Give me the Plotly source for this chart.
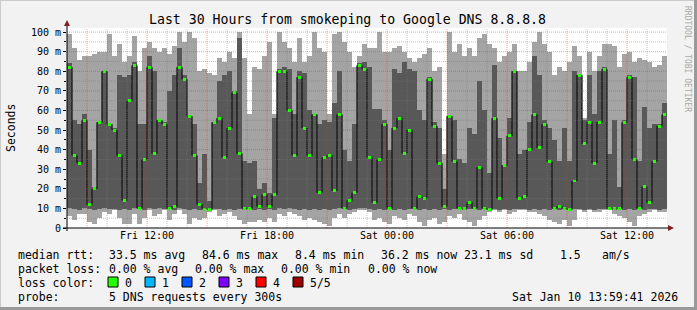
import plotly.graph_objects as go
import pandas as pd

# ---------------- data (ms), one value per 15-minute step, Fri 08:00 -> Sat 14:00 ----------------
START = "2026-01-09 08:00"
STEP_MIN = 15

max_ms = [99, 92, 86, 88, 88, 89, 90, 90, 99, 88, 94, 85, 88, 98, 80, 92, 95, 92, 90, 92, 89, 93, 100, 95, 100, 97, 80, 81, 79, 78,
          87, 85, 90, 87, 100, 87, 58, 82, 81, 88, 95, 58, 100, 95, 92, 85, 97, 85, 88, 100, 92, 90, 58, 99, 100, 95, 90, 82, 88, 94,
          92, 92, 100, 90, 90, 92, 93, 90, 87, 85, 87, 89, 92, 80, 82, 38, 100, 90, 94, 88, 92, 88, 97, 99, 94, 92, 85, 88, 90, 94,
          80, 80, 85, 95, 100, 94, 90, 78, 82, 80, 85, 93, 88, 56, 90, 80, 88, 94, 94, 93, 82, 89, 90, 85, 87, 86, 85, 82, 83, 88]
upper_ms = [84, 55, 53, 58, 40, 21, 54, 80, 53, 51, 78, 77, 78, 85, 53, 53, 88, 80, 55, 54, 70, 78, 92, 78, 57, 53, 23, 38, 14, 54,
            75, 78, 80, 70, 97, 34, 33, 34, 20, 23, 18, 56, 81, 82, 81, 58, 80, 79, 60, 58, 53, 55, 54, 64, 80, 40, 34, 53, 84, 85,
            82, 61, 61, 55, 40, 81, 79, 85, 81, 80, 60, 55, 77, 54, 51, 20, 57, 55, 35, 33, 51, 48, 75, 60, 28, 83, 46, 32, 56, 80,
            38, 40, 54, 88, 78, 55, 51, 45, 34, 51, 34, 80, 78, 55, 78, 58, 80, 82, 38, 55, 21, 55, 78, 77, 34, 62, 51, 53, 53, 64]
median_ms = [82, 37, 33, 55, 12, 20, 54, 80, 53, 50, 37, 14, 65, 83, 10, 35, 82, 38, 55, 53, 10, 11, 82, 76, 57, 37, 12, 9.5, 9.5, 54,
             56, 36, 51, 69, 38, 10, 10, 16, 11, 17, 11, 17, 80, 80, 60, 37, 77, 51, 37, 58, 18, 36, 37, 19, 58, 10, 14, 18, 83, 81,
             36, 13, 35, 53, 10, 51, 56, 38, 50, 10, 16, 15, 76, 52, 33, 11, 57, 34, 10, 10, 13, 10, 31, 10, 9.5, 56, 15, 32, 47, 80,
             15, 16, 40, 58, 41, 53, 34, 10, 11, 10, 9.5, 24, 78, 43, 54, 33, 54, 81, 10, 10, 10, 54, 77, 35, 10, 21, 13, 34, 52, 58]
lower_ms = [10, 9.5, 9, 10, 9.5, 9, 9.5, 10, 9.5, 9.5, 9, 9.5, 9, 10, 9.5, 9, 10, 9.5, 10, 9.5, 9.5, 9, 10, 9.5, 9, 9.5, 9, 9.5, 9, 9.5,
            9.5, 9, 9.5, 9, 9.5, 9, 9.5, 9, 9.5, 9, 9.5, 9, 10, 9.5, 10, 9.5, 9, 9.5, 9, 9.5, 9, 9.5, 9, 9.5, 10, 9.5, 9, 9.5, 10, 10,
            9.5, 9, 9.5, 9, 9.5, 9, 9.5, 9, 9.5, 9.5, 9, 9.5, 9, 9.5, 9, 9.5, 9, 9.5, 9.5, 9, 9.5, 9.5, 9, 9.5, 9, 9.5, 9, 9.5, 9, 9.5,
            9.5, 9.5, 9, 9.5, 9, 9.5, 9, 9.5, 9, 9.5, 9, 9.5, 9.5, 9, 9.5, 9, 9.5, 9.5, 9.5, 9, 9.5, 9, 9.5, 9, 9.5, 9, 9.5, 9.5, 9, 9.5]
min_ms = [6, 4, 7, 7, 3, 2, 5, 8, 7, 9, 5, 2, 2, 7, 2, 5, 9, 6, 7, 9, 4, 7, 9, 7, 2, 5, 4, 5, 8, 9,
          6, 7, 8, 6, 4, 2, 3, 3, 4, 3, 5, 3, 7, 6, 8, 7, 6, 4, 5, 4, 3, 2, 1, 5, 7, 5, 7, 8, 9, 9,
          8, 4, 5, 3, 2, 6, 5, 4, 7, 6, 3, 1, 4, 5, 2, 3, 6, 5, 7, 4, 3, 1, 4, 6, 8, 9, 8, 9, 7, 8,
          9, 9, 8, 8, 7, 6, 4, 3, 2, 4, 1, 4, 9, 8, 9, 8, 8, 9, 9, 7, 6, 5, 3, 1, 6, 7, 8, 9, 8, 8]

y_tick_vals = [0, 10, 20, 30, 40, 50, 60, 70, 80, 90, 100]
y_tick_text = ["0", "10 m", "20 m", "30 m", "40 m", "50 m", "60 m", "70 m", "80 m", "90 m", "100 m"]
x_tick_vals = ["2026-01-09 12:00", "2026-01-09 18:00", "2026-01-10 00:00", "2026-01-10 06:00", "2026-01-10 12:00"]
x_tick_text = ["Fri 12:00", "Fri 18:00", "Sat 00:00", "Sat 06:00", "Sat 12:00"]

title_text = "Last 30 Hours from smokeping to Google DNS 8.8.8.8"
legend_rows = [
    [(16, "median rtt:"), (107, "33.5 ms avg"), (200, "84.6 ms max"), (293, "8.4 ms min"),
     (379, "36.2 ms now"), (462, "23.1 ms sd"), (558, "1.5"), (600, "am/s")],
    [(16, "packet loss:"), (107, "0.00 % avg"), (193, "0.00 % max"), (279, "0.00 % min"), (366, "0.00 % now")],
    [(16, "loss color:")],
    [(16, "probe:"), (107, "5 DNS requests every 300s")],
]
loss_labels = ["0", "1", "2", "3", "4", "5/5"]
loss_colors = ["#26ff00", "#00b8ff", "#0059ff", "#7e00ff", "#ff0000", "#a10000"]
stamp_text = "Sat Jan 10 13:59:41 2026"

# ---------------- geometry ----------------
W, H = 697, 310
L, R, T, B = 67, 30, 28, 82
PW, PH = W - L - R, H - T - B
MONO = "DejaVu Sans Mono"


def px(x):
    return (x - L) / PW


def py(y):
    return (T + PH - y) / PH


times = pd.date_range(START, periods=len(median_ms), freq=f"{STEP_MIN}min")
step = STEP_MIN * 60 * 1000

fig = go.Figure()
fig.add_trace(go.Bar(x=times, base=min_ms, y=[a - b for a, b in zip(max_ms, min_ms)],
                     width=step, offset=0, marker=dict(color="#a4a4a4", line=dict(width=0)),
                     hoverinfo="skip"))
fig.add_trace(go.Bar(x=times, base=lower_ms, y=[a - b for a, b in zip(upper_ms, lower_ms)],
                     width=step, offset=0, marker=dict(color="#585858", line=dict(width=0)),
                     hoverinfo="skip"))
# median line: only the vertical jumps between consecutive steps stay visible
mx, my = [], []
for i in range(1, len(median_ms)):
    mx += [times[i], times[i], None]
    my += [median_ms[i - 1], median_ms[i], None]
fig.add_trace(go.Scatter(x=mx, y=my, mode="lines", line=dict(color="#161616", width=1.3),
                         hoverinfo="skip", connectgaps=False))
fig.add_trace(go.Bar(x=times, base=[m - 0.75 for m in median_ms], y=[1.5] * len(median_ms),
                     width=step * 0.6, offset=step * 0.2,
                     marker=dict(color=loss_colors[0], line=dict(width=0)), hoverinfo="skip"))

shapes = []
t0 = pd.Timestamp(START)
for h in range(1, 30):
    t = t0 + pd.Timedelta(hours=h)
    major = (t.hour % 3 == 0)
    shapes.append(dict(type="line", xref="x", yref="paper", x0=t, x1=t, y0=0, y1=1, layer="above",
                       line=dict(color="rgba(240,40,40,0.45)" if major else "rgba(120,120,120,0.45)",
                                 width=1, dash="1px,1px")))
for v in range(5, 101, 5):
    major = (v % 10 == 0)
    shapes.append(dict(type="line", xref="paper", yref="y", x0=0, x1=1, y0=v, y1=v, layer="above",
                       line=dict(color="rgba(240,40,40,0.45)" if major else "rgba(120,120,120,0.45)",
                                 width=1, dash="1px,1px")))
shapes.append(dict(type="line", xref="paper", yref="paper", x0=px(63), x1=px(669), y0=py(228), y1=py(228),
                   line=dict(color="black", width=1), layer="above"))
shapes.append(dict(type="line", xref="paper", yref="paper", x0=px(67), x1=px(67), y0=py(231), y1=py(24),
                   line=dict(color="black", width=1), layer="above"))
shapes.append(dict(type="path", xref="paper", yref="paper",
                   path=f"M {px(64)} {py(26)} L {px(70)} {py(26)} L {px(67)} {py(20)} Z",
                   fillcolor="#7f1f1f", line=dict(width=0), layer="above"))
shapes.append(dict(type="path", xref="paper", yref="paper",
                   path=f"M {px(668)} {py(225)} L {px(668)} {py(231)} L {px(674)} {py(228)} Z",
                   fillcolor="#7f1f1f", line=dict(width=0), layer="above"))
shapes.append(dict(type="line", xref="paper", yref="paper", x0=px(0), x1=px(697), y0=py(0.5), y1=py(0.5),
                   line=dict(color="#cbcbcb", width=1)))
shapes.append(dict(type="line", xref="paper", yref="paper", x0=px(0.5), x1=px(0.5), y0=py(0), y1=py(310),
                   line=dict(color="#cbcbcb", width=1)))
shapes.append(dict(type="line", xref="paper", yref="paper", x0=px(0), x1=px(697), y0=py(308.5), y1=py(308.5),
                   line=dict(color="#999999", width=3)))
shapes.append(dict(type="line", xref="paper", yref="paper", x0=px(695.5), x1=px(695.5), y0=py(0), y1=py(310),
                   line=dict(color="#999999", width=3)))
for i, c in enumerate(loss_colors):
    x0 = 108 + 37 * i
    shapes.append(dict(type="rect", xref="paper", yref="paper", x0=px(x0), x1=px(x0 + 10),
                       y0=py(277), y1=py(287), fillcolor=c, line=dict(color="black", width=1)))

ann = []
ann.append(dict(x=px(347), y=py(19), text=title_text, showarrow=False, xanchor="center", yanchor="middle",
                font=dict(family=MONO, size=13.2, color="black")))
ann.append(dict(x=px(11), y=py(128), text="Seconds", showarrow=False, textangle=-90, xanchor="center",
                yanchor="middle", font=dict(family=MONO, size=11.5, color="black")))
ann.append(dict(x=px(688), y=py(59), text="RRDTOOL / TOBI OETIKER", showarrow=False, textangle=90,
                xanchor="center", yanchor="middle", font=dict(family=MONO, size=8, color="#a8a8a8")))
row_y = [254.5, 268.5, 282.5, 296.5]
for ry, row in zip(row_y, legend_rows):
    for x0, txt in row:
        ann.append(dict(x=px(x0), y=py(ry), text=txt, showarrow=False, xanchor="left", yanchor="middle",
                        font=dict(family=MONO, size=11.5, color="black")))
for i, lab in enumerate(loss_labels):
    ann.append(dict(x=px(123 + 37 * i), y=py(282.5), text=lab, showarrow=False, xanchor="left",
                    yanchor="middle", font=dict(family=MONO, size=11.5, color="black")))
ann.append(dict(x=px(680), y=py(296.5), text=stamp_text, showarrow=False, xanchor="right", yanchor="middle",
                font=dict(family=MONO, size=11.5, color="black")))
for a in ann:
    a["xref"] = "paper"
    a["yref"] = "paper"

fig.update_layout(
    width=W, height=H, margin=dict(l=L, r=R, t=T, b=B, pad=0),
    paper_bgcolor="#f2f2f2", plot_bgcolor="white",
    barmode="overlay", bargap=0, showlegend=False,
    shapes=shapes, annotations=ann,
    xaxis=dict(type="date", range=[t0, t0 + pd.Timedelta(hours=30)], showgrid=False, zeroline=False,
               tickvals=x_tick_vals, ticktext=x_tick_text, ticks="", showline=False,
               tickfont=dict(family=MONO, size=10, color="black"), fixedrange=True),
    yaxis=dict(range=[0, 102.1], showgrid=False, zeroline=False, tickvals=y_tick_vals, ticktext=y_tick_text,
               ticks="outside", ticklen=3, tickcolor="black", showline=False,
               tickfont=dict(family=MONO, size=10, color="black"), fixedrange=True,
               minor=dict(ticks="outside", ticklen=2, dtick=5, tickcolor="black", showgrid=False)),
)

fig.write_html("out.html")
